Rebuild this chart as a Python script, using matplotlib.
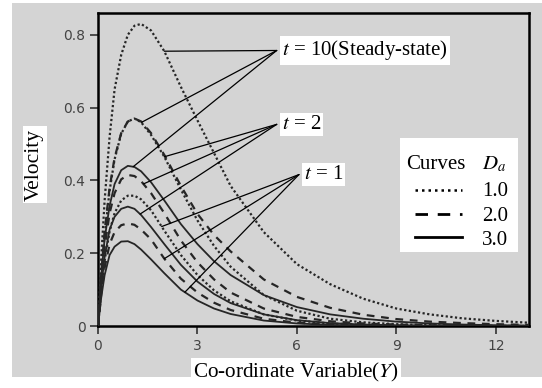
import numpy as np
import matplotlib
matplotlib.use('Agg')
import matplotlib.pyplot as plt
from matplotlib.lines import Line2D
from matplotlib.patches import Rectangle

# ---------------- data ----------------
Y = [0, 0.1, 0.2, 0.35, 0.5, 0.7, 0.9, 1.1, 1.3, 1.6, 2.0, 2.5, 3.0, 3.5, 4.0,
     5.0, 6.0, 7.0, 8.0, 9.0, 10.0, 11.0, 12.0, 13.0]

# t = 10 (steady state)
u_t10_da1 = [0, 0.19, 0.345, 0.52, 0.65, 0.745, 0.80, 0.825, 0.83, 0.812, 0.755, 0.657,
             0.565, 0.475, 0.385, 0.258, 0.17, 0.115, 0.075, 0.048, 0.032, 0.021, 0.014, 0.009]
u_t10_da2 = [0, 0.145, 0.26, 0.38, 0.462, 0.53, 0.562, 0.57, 0.562, 0.53, 0.47, 0.385,
             0.308, 0.25, 0.205, 0.128, 0.08, 0.05, 0.031, 0.019, 0.012, 0.008, 0.005, 0.003]
u_t10_da3 = [0, 0.14, 0.24, 0.33, 0.39, 0.428, 0.44, 0.437, 0.425, 0.395, 0.345, 0.28,
             0.225, 0.178, 0.14, 0.085, 0.052, 0.032, 0.02, 0.012, 0.007, 0.004, 0.002, 0.001]
# t = 2
u_t2_da1 = [0, 0.14, 0.25, 0.372, 0.458, 0.528, 0.562, 0.57, 0.56, 0.525, 0.465, 0.375,
            0.29, 0.22, 0.163, 0.085, 0.042, 0.02, 0.01, 0.005, 0.002, 0.001, 0, 0]
u_t2_da2 = [0, 0.12, 0.215, 0.31, 0.365, 0.403, 0.415, 0.412, 0.398, 0.365, 0.31, 0.235,
            0.175, 0.128, 0.092, 0.048, 0.025, 0.013, 0.007, 0.004, 0.002, 0.001, 0, 0]
u_t2_da3 = [0, 0.11, 0.19, 0.265, 0.30, 0.322, 0.328, 0.322, 0.305, 0.272, 0.225, 0.168,
            0.122, 0.088, 0.063, 0.032, 0.016, 0.008, 0.004, 0.002, 0.001, 0, 0, 0]
# t = 1
u_t1_da1 = [0, 0.1, 0.18, 0.26, 0.31, 0.345, 0.358, 0.358, 0.348, 0.318, 0.262, 0.195,
            0.14, 0.098, 0.068, 0.032, 0.015, 0.007, 0.003, 0.001, 0, 0, 0, 0]
u_t1_da2 = [0, 0.09, 0.16, 0.225, 0.258, 0.277, 0.282, 0.278, 0.265, 0.238, 0.185, 0.13,
            0.092, 0.064, 0.044, 0.02, 0.009, 0.004, 0.002, 0.001, 0, 0, 0, 0]
u_t1_da3 = [0, 0.08, 0.14, 0.195, 0.218, 0.232, 0.233, 0.225, 0.21, 0.183, 0.145, 0.10,
            0.07, 0.048, 0.033, 0.015, 0.007, 0.003, 0.001, 0, 0, 0, 0, 0]

da_labels = ['1.0', '2.0', '3.0']
x_ticks = [0, 3, 6, 9, 12]
y_ticks = [0, 0.2, 0.4, 0.6, 0.8]
y_tick_labels = ['0', '0.2', '0.4', '0.6', '0.8']

# annotation groups: label text, label anchor, (curve, Y-position of pointer)
groups = [
    ('$t$ = 10(Steady-state)', (5.39, 0.757), [(u_t10_da1, 2.0), (u_t10_da2, 1.32), (u_t10_da3, 1.06)]),
    ('$t$ = 2', (5.39, 0.554), [(u_t2_da1, 2.0), (u_t2_da2, 1.37), (u_t2_da3, 1.27)]),
    ('$t$ = 1', (6.06, 0.416), [(u_t1_da1, 1.92), (u_t1_da2, 2.0), (u_t1_da3, 2.62)]),
]

# ---------------- styling ----------------
plt.rcParams['mathtext.fontset'] = 'stix'
SERIF = 'Liberation Serif'
BG = '#d4d4d4'
LC = '#262626'
styles = {
    'dot': dict(ls=(0, (1, 1.1)), lw=1.6),
    'dash': dict(ls=(0, (3.5, 3.0)), lw=1.6),
    'solid': dict(ls='-', lw=1.3),
}
legend_styles = [dict(ls=(0, (1, 1.6)), lw=1.8),
                 dict(ls=(0, (4.5, 3.5)), lw=2.0),
                 dict(ls='-', lw=2.0)]

W, H = 542, 388
AX_L, AX_R, AX_T, AX_B = 98, 529, 13, 326

fig = plt.figure(figsize=(W / 100, H / 100), dpi=100, facecolor='white')
bgrect = Rectangle((12 / W, 1 - 377 / H), 530 / W, 374 / H,
                   transform=fig.transFigure, facecolor=BG, edgecolor='none', zorder=-10)
fig.patches.append(bgrect)
ax = fig.add_axes([AX_L / W, 1 - AX_B / H, (AX_R - AX_L) / W, (AX_B - AX_T) / H])
ax.set_facecolor(BG)

curves = [
    (u_t10_da1, 'dot'), (u_t10_da2, 'dash'), (u_t10_da3, 'solid'),
    (u_t2_da1, 'dot'), (u_t2_da2, 'dash'), (u_t2_da3, 'solid'),
    (u_t1_da1, 'dot'), (u_t1_da2, 'dash'), (u_t1_da3, 'solid'),
]
for vals, st in curves:
    ax.plot(Y, vals, color=LC, **styles[st], zorder=3)

ax.set_xlim(0, 13)
ax.set_ylim(0, 0.86)
ax.set_xticks(x_ticks)
ax.set_yticks(y_ticks)
ax.set_yticklabels(y_tick_labels)
ax.tick_params(direction='out', length=6, width=1.2, color='#333333',
               labelsize=10, labelcolor='#444444', pad=3)
for sp in ax.spines.values():
    sp.set_linewidth(1.8)
    sp.set_color('black')

for text, (lx, ly), targets in groups:
    for vals, xt in targets:
        yt = float(np.interp(xt, Y, vals))
        ax.annotate('', xy=(xt, yt), xytext=(lx, ly),
                    arrowprops=dict(arrowstyle='-', lw=0.9, color='black',
                                    shrinkA=0, shrinkB=0), zorder=4)
    ax.text(lx + 0.15, ly, text, fontsize=15, family=SERIF, va='center', ha='left',
            bbox=dict(boxstyle='square,pad=0.1', fc='white', ec='none'), zorder=5)


# ---- legend box built by hand (positions in pixels of the figure) ----
def axf(px, py):
    return (px - AX_L) / (AX_R - AX_L), (AX_B - py) / (AX_B - AX_T)


x0, y0 = axf(400, 252)
x1, y1 = axf(518, 138)
ax.add_patch(Rectangle((x0, y0), x1 - x0, y1 - y0, transform=ax.transAxes,
                       facecolor='white', edgecolor='none', zorder=6))
tx, ty = axf(406, 164)
ax.text(tx, ty, 'Curves', transform=ax.transAxes, fontsize=15, family=SERIF,
        ha='left', va='center', zorder=7)
tx, ty = axf(482, 164)
ax.text(tx, ty, '$D_a$', transform=ax.transAxes, fontsize=15, family=SERIF,
        ha='left', va='center', zorder=7)
for i, (lab, st) in enumerate(zip(da_labels, legend_styles)):
    la, lyy = axf(415, 190 + 23.7 * i)
    lb, _ = axf(462, 190 + 23.7 * i)
    ax.add_line(Line2D([la, lb], [lyy, lyy], transform=ax.transAxes, color='black',
                       zorder=7, **st))
    tx, ty = axf(482, 192 + 24.2 * i)
    ax.text(tx, ty, lab, transform=ax.transAxes, fontsize=15, family=SERIF,
            ha='left', va='center', zorder=7)

fig.text(34.6 / W, 1 - 164.5 / H, 'Velocity', rotation=90, fontsize=15.5,
         family=SERIF, ha='center', va='center',
         bbox=dict(boxstyle='square,pad=0.12', fc='white', ec='none'))
fig.text(296 / W, 1 - 372.5 / H, 'Co-ordinate Variable($Y$)', fontsize=15.2,
         family=SERIF, ha='center', va='center',
         bbox=dict(boxstyle='square,pad=0.12', fc='white', ec='none'))

fig.savefig('out.png', dpi=100, facecolor=fig.get_facecolor())
